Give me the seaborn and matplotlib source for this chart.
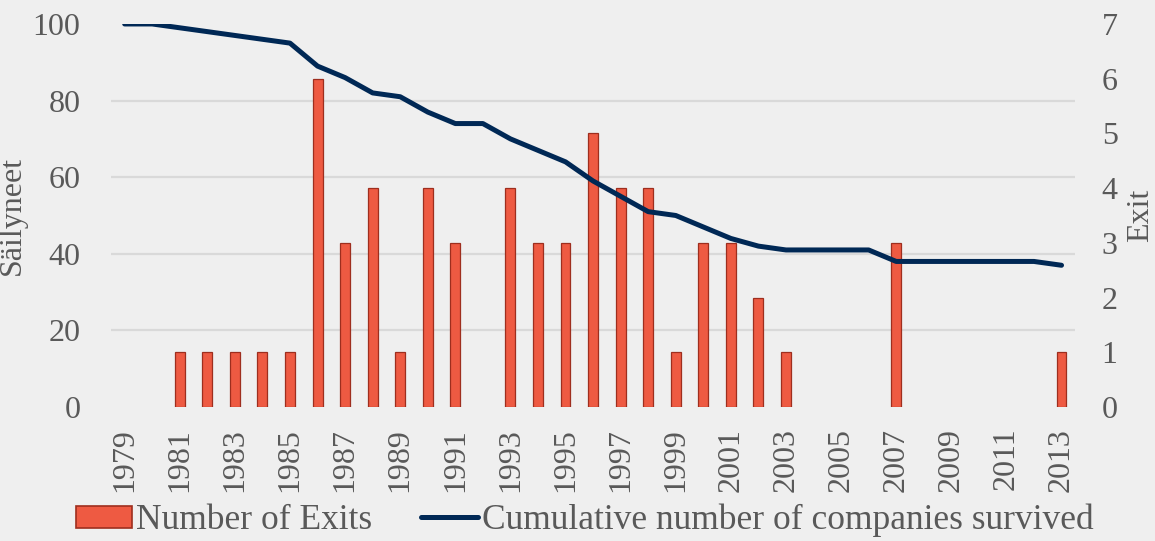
import numpy as np
import matplotlib
matplotlib.use("Agg")
import matplotlib.pyplot as plt
from matplotlib.patches import Patch
import seaborn as sns

# ==========================================
# DATA
# ==========================================
years = [str(y) for y in range(1979, 2014)]

# Number of exits per year (right axis)
exits = [0, 0, 1, 1, 1, 1, 1, 6, 3, 4, 1, 4, 3, 0, 4, 3, 3, 5, 4, 4,
         1, 3, 3, 2, 1, 0, 0, 0, 3, 0, 0, 0, 0, 0, 1]

# Cumulative number of companies survived (left axis)
survived = [100, 100, 99, 98, 97, 96, 95, 89, 86, 82, 81, 77, 74, 74, 70, 67, 64, 59, 55, 51,
            50, 47, 44, 42, 41, 41, 41, 41, 38, 38, 38, 38, 38, 38, 37]

left_ticks = [0, 20, 40, 60, 80, 100]
right_ticks = [0, 1, 2, 3, 4, 5, 6, 7]

# ==========================================
# STYLE
# ==========================================
sns.set_style("white")
plt.rcParams["font.family"] = ["Liberation Serif", "DejaVu Serif"]
TXT = "#595959"
BG = "#efefef"
BAR = "#ee5a42"
BAR_EDGE = "#9e2e1e"
LINE = "#002855"
FS = 23

fig = plt.figure(figsize=(11.55, 5.41), dpi=100, facecolor=BG)
ax = fig.add_axes([0.096, 0.2477, 0.835, 0.708])
ax2 = ax.twinx()

# Bars on the right axis
sns.barplot(x=years, y=exits, ax=ax2, color=BAR, saturation=1,
            width=0.36, edgecolor=BAR_EDGE, linewidth=0.9)
# hide the empty (zero) bars so no stray edges show at the baseline
for p in ax2.patches:
    if p.get_height() == 0:
        p.set_visible(False)

# Line on the left axis (drawn above the bars)
pos = np.arange(len(years))
sns.lineplot(x=pos, y=survived, ax=ax, color=LINE, linewidth=3.6,
             label="Cumulative number of companies survived", legend=False)

ax.set_zorder(ax2.get_zorder() + 1)
ax.patch.set_visible(False)
ax2.patch.set_visible(False)

# Axes limits / ticks
ax.set_xlim(-0.5, len(years) - 0.5)
ax.set_ylim(0, 100)
ax2.set_ylim(0, 7)
ax.set_yticks(left_ticks)
ax2.set_yticks(right_ticks)
ax.set_xticks(pos[::2])
ax.set_xticklabels(years[::2], rotation=90, va="top")

# Gridlines behind the bars (matching the left axis steps)
ax2.set_yticks(np.linspace(0, 7, len(left_ticks)), minor=True)
ax2.set_axisbelow(True)
ax2.grid(which="minor", axis="y", color="#d9d9d9", linewidth=1.6)
ax2.tick_params(which="minor", length=0)
ax.grid(False)

for a in (ax, ax2):
    for s in a.spines.values():
        s.set_visible(False)
    a.tick_params(axis="both", length=0, labelsize=FS, colors=TXT)
ax.tick_params(axis="y", pad=22)
ax2.tick_params(axis="y", pad=19)
ax.tick_params(axis="x", pad=15)

ax.set_xlabel("")
ax.set_ylabel("Säilyneet", fontsize=FS, color=TXT, labelpad=4)
ax2.set_ylabel("Exit", fontsize=FS, color=TXT, labelpad=6)

# Legend at the bottom
bar_handle = Patch(facecolor=BAR, edgecolor=BAR_EDGE, linewidth=1.2)
h2, l2 = ax.get_legend_handles_labels()
fig.legend([bar_handle] + h2, ["Number of Exits"] + l2, loc="lower center",
           bbox_to_anchor=(0.506, -0.052), ncol=2, frameon=False, fontsize=25.5,
           labelcolor=TXT, handlelength=1.6, handleheight=0.6,
           handletextpad=0.1, columnspacing=1.4)

fig.savefig("out.png", dpi=100, facecolor=BG)
